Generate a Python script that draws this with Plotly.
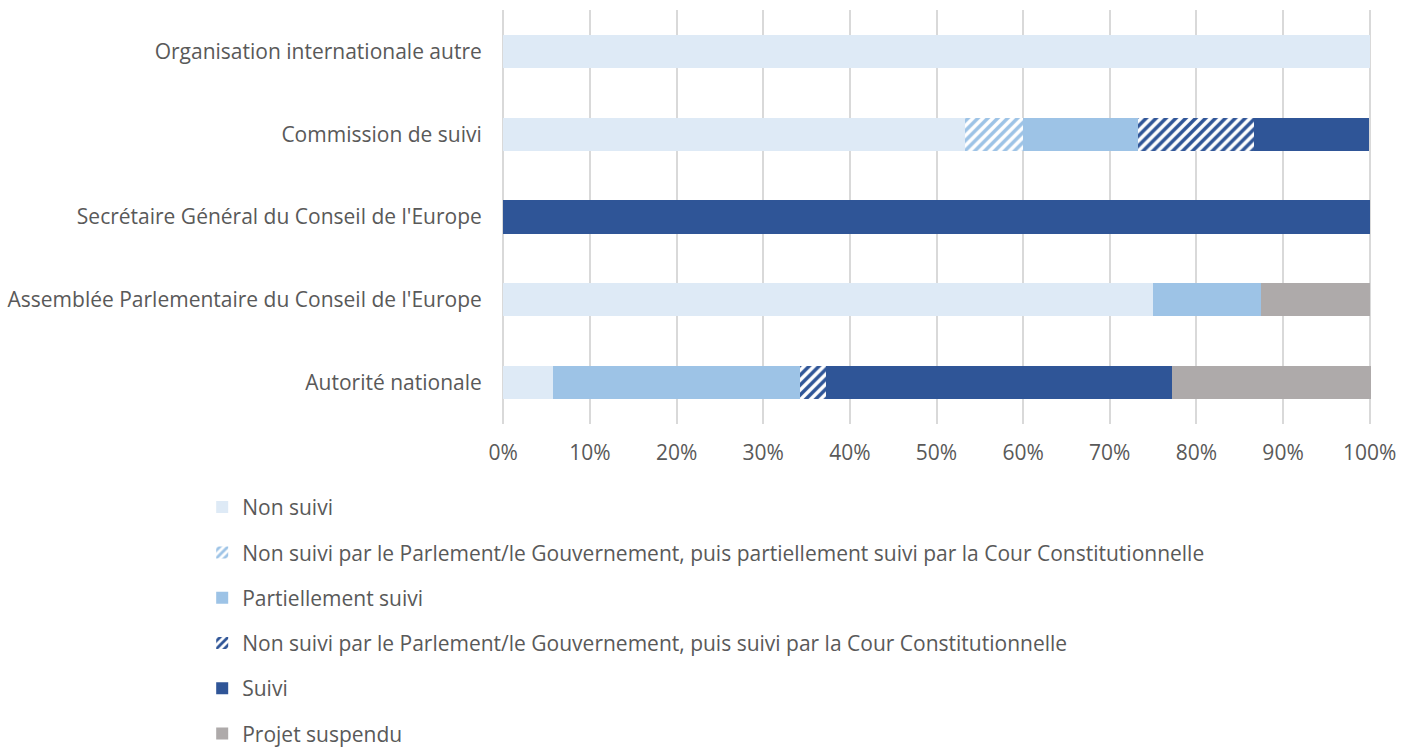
import plotly.graph_objects as go

# Categories, listed bottom-to-top as they appear on the y axis
categories = [
    "Autorité nationale",
    "Assemblée Parlementaire du Conseil de l'Europe",
    "Secrétaire Général du Conseil de l'Europe",
    "Commission de suivi",
    "Organisation internationale autre",
]

# Share of recommendations (%) per outcome
non_suivi = [5.7, 75.0, 0.0, 53.3, 100.0]
non_suivi_cour_partiel = [0.0, 0.0, 0.0, 6.7, 0.0]
partiellement_suivi = [28.6, 12.5, 0.0, 13.3, 0.0]
non_suivi_cour_suivi = [2.9, 0.0, 0.0, 13.3, 0.0]
suivi = [40.0, 0.0, 100.0, 13.3, 0.0]
projet_suspendu = [22.9, 12.5, 0.0, 0.0, 0.0]

tick_values = [0, 10, 20, 30, 40, 50, 60, 70, 80, 90, 100]
tick_labels = ["0%", "10%", "20%", "30%", "40%", "50%", "60%", "70%", "80%", "90%", "100%"]

series = [
    ("Non suivi", non_suivi, "#DEEAF6", None),
    ("Non suivi par le Parlement/le Gouvernement, puis partiellement suivi par la Cour Constitutionnelle",
     non_suivi_cour_partiel, "#9DC3E6", "/"),
    ("Partiellement suivi", partiellement_suivi, "#9DC3E6", None),
    ("Non suivi par le Parlement/le Gouvernement, puis suivi par la Cour Constitutionnelle",
     non_suivi_cour_suivi, "#2F5597", "/"),
    ("Suivi", suivi, "#2F5597", None),
    ("Projet suspendu", projet_suspendu, "#AEAAAA", None),
]

FONT = "Open Sans, Segoe UI, sans-serif"
TEXT = "#595959"

fig = go.Figure()
for i, (name, vals, color, shape) in enumerate(series):
    marker = dict(color=color, line=dict(width=0))
    if shape:
        marker["pattern"] = dict(shape=shape, fgcolor=color, bgcolor="white",
                                 size=7, solidity=0.5, fillmode="replace")
    fig.add_trace(go.Bar(
        y=categories, x=vals, name=name, orientation="h",
        marker=marker, width=0.4, legendgroup=f"g{i}",
    ))

fig.update_layout(
    barmode="stack",
    width=1417, height=747,
    margin=dict(l=502, r=46, t=10, b=323, autoexpand=False),
    paper_bgcolor="white", plot_bgcolor="white",
    font=dict(family=FONT, size=21, color=TEXT),
    showlegend=True,
    legend=dict(
        orientation="v", traceorder="grouped", tracegroupgap=15,
        x=-0.345, y=-0.152, xanchor="left", yanchor="top",
        font=dict(family=FONT, size=21, color=TEXT),
        itemwidth=30,
    ),
    xaxis=dict(
        # small padding so the 0% and 100% gridlines stay visible
        range=[-0.15, 100.15], tickvals=tick_values, ticktext=tick_labels,
        showgrid=True, gridcolor="#D9D9D9", gridwidth=2,
        zeroline=False, showline=False, ticks="outside", ticklen=10,
        tickcolor="rgba(0,0,0,0)",
        automargin=False,
    ),
    yaxis=dict(
        categoryorder="array", categoryarray=categories,
        showgrid=False, showline=False, ticks="outside", ticklen=15,
        tickcolor="rgba(0,0,0,0)", automargin=False,
    ),
)

fig.write_html("out.html")
